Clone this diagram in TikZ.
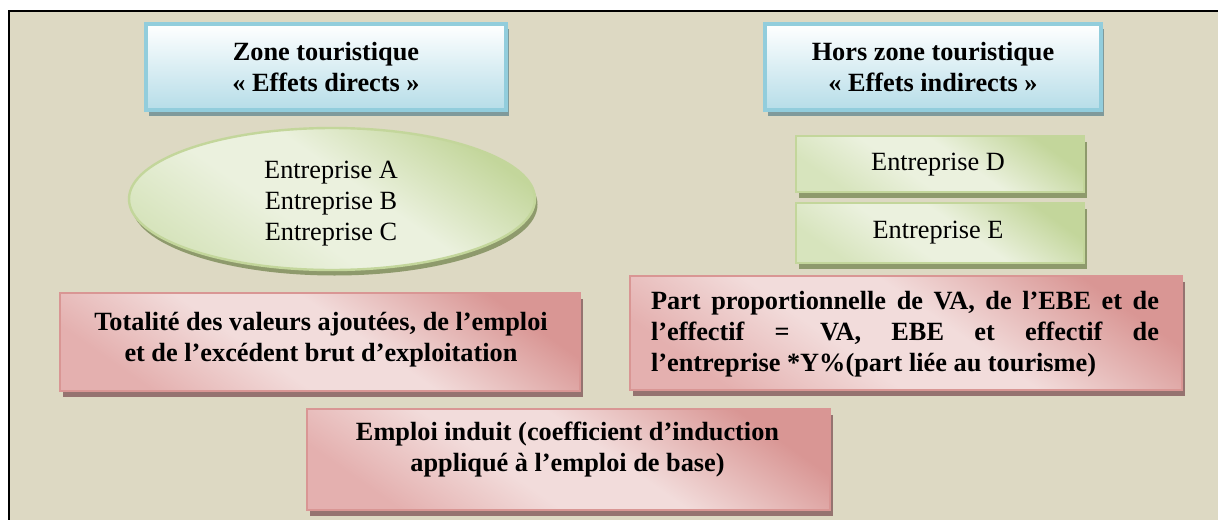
\documentclass[tikz,border=0pt]{standalone}
\usepackage{fontspec}
\setmainfont{Liberation Serif}
\usetikzlibrary{shapes.geometric,shadows}

\definecolor{fondbeige}{HTML}{DDD9C3}
\definecolor{bleubord}{HTML}{92CDDC}
\definecolor{bleufond}{HTML}{B6DDE8}
\definecolor{bleuombre}{HTML}{7F9A9B}
\definecolor{vertbord}{HTML}{C3D69B}
\definecolor{vertmoyen}{HTML}{D7E4BD}
\definecolor{vertclair}{HTML}{EBF1DE}
\definecolor{vertombre}{HTML}{8E9A6C}
\definecolor{rougebord}{HTML}{D99694}
\definecolor{rougemoyen}{HTML}{E4B0AF}
\definecolor{rougeclair}{HTML}{F2DCDB}
\definecolor{rougeombre}{HTML}{957370}

% diagonal gradients (dark top, light middle, medium bottom)
\pgfdeclareverticalshading{vertdiag}{100bp}{color(0bp)=(vertmoyen); color(25bp)=(vertmoyen); color(42bp)=(vertclair); color(55bp)=(vertclair); color(75bp)=(vertbord); color(100bp)=(vertbord)}
\pgfdeclareverticalshading{rougediag}{100bp}{color(0bp)=(rougemoyen); color(25bp)=(rougemoyen); color(42bp)=(rougeclair); color(55bp)=(rougeclair); color(75bp)=(rougebord); color(100bp)=(rougebord)}

\begin{document}
\begin{tikzpicture}[x=0.5pt, y=-0.5pt,
    zonebox/.style={draw=bleubord, line width=1.6pt, inner sep=0pt, top color=white, bottom color=bleufond,
        general shadow={fill=bleuombre, shadow xshift=1.5pt, shadow yshift=-2.75pt}},
    firmbox/.style={draw=vertbord, line width=1.2pt, inner sep=0pt, shade, shading=vertdiag, shading angle=-35,
        general shadow={fill=vertombre, shadow xshift=1.25pt, shadow yshift=-2.75pt}},
    resultbox/.style={draw=rougebord, line width=1.2pt, inner sep=0pt, shade, shading=rougediag, shading angle=-35,
        general shadow={fill=rougeombre, shadow xshift=1.25pt, shadow yshift=-2.75pt}},
    plaintext/.style={align=center, font=\fontsize{13.15}{15.5}\selectfont},
    boldtext/.style={align=center, font=\fontsize{13.15}{15.5}\selectfont\bfseries}
]
        \useasboundingbox (0,0) rectangle (1218,519);
        \clip (0,0) rectangle (1218,519);
        
        % Frame
        \draw[line width=1pt, fill=fondbeige] (9,11) rectangle (1260,560);
        
        % Left title
        \node[zonebox, minimum width=180pt, minimum height=43pt] (directbox) at (326,67) {};
        \node[boldtext] (directtxt) at (326,67) {Zone touristique\\« Effets directs »};
        
        % Right title
        \node[zonebox, minimum width=168pt, minimum height=43pt] (indirectbox) at (933,67) {};
        \node[boldtext] (indirecttxt) at (933,67) {Hors zone touristique\\« Effets indirects »};
        
        % Left firms
        \node[firmbox, ellipse, minimum width=203pt, minimum height=71pt] (firmsabc) at (332,199) {};
        \node[plaintext] (firmsabctxt) at (331,204) {Entreprise A\\Entreprise B\\Entreprise C};
        
        % Right firms
        \node[firmbox, minimum width=144pt, minimum height=28pt] (firmd) at (940,164) {};
        \node[plaintext] (firmdtxt) at (938,165) {Entreprise D};
        \node[firmbox, minimum width=144pt, minimum height=30pt] (firme) at (940,233) {};
        \node[plaintext] (firmetxt) at (938,233) {Entreprise E};
        
        % Left result
        \node[resultbox, minimum width=260pt, minimum height=49pt] (totalbox) at (320,342) {};
        \node[boldtext] (totaltxt) at (321,340) {Totalité des valeurs ajoutées, de l’emploi\\et de l’excédent brut d’exploitation};
        
        % Right result
        \node[resultbox, minimum width=276pt, minimum height=57pt] (partbox) at (906,333) {};
        \node[boldtext, align=justify, text width=254pt] (parttxt) at (905,334) {Part proportionnelle de VA, de l’EBE et de\linebreak l’effectif = VA, EBE et effectif de\linebreak l’entreprise *Y\%(part liée au tourisme)};
        
        % Bottom result
        \node[resultbox, minimum width=261.5pt, minimum height=50.5pt] (inducedbox) at (568.5,459.5) {};
        \node[boldtext] (inducedtxt) at (567.5,450) {Emploi induit (coefficient d’induction\\appliqué à l’emploi de base)};
        
    \end{tikzpicture}
\end{document}
